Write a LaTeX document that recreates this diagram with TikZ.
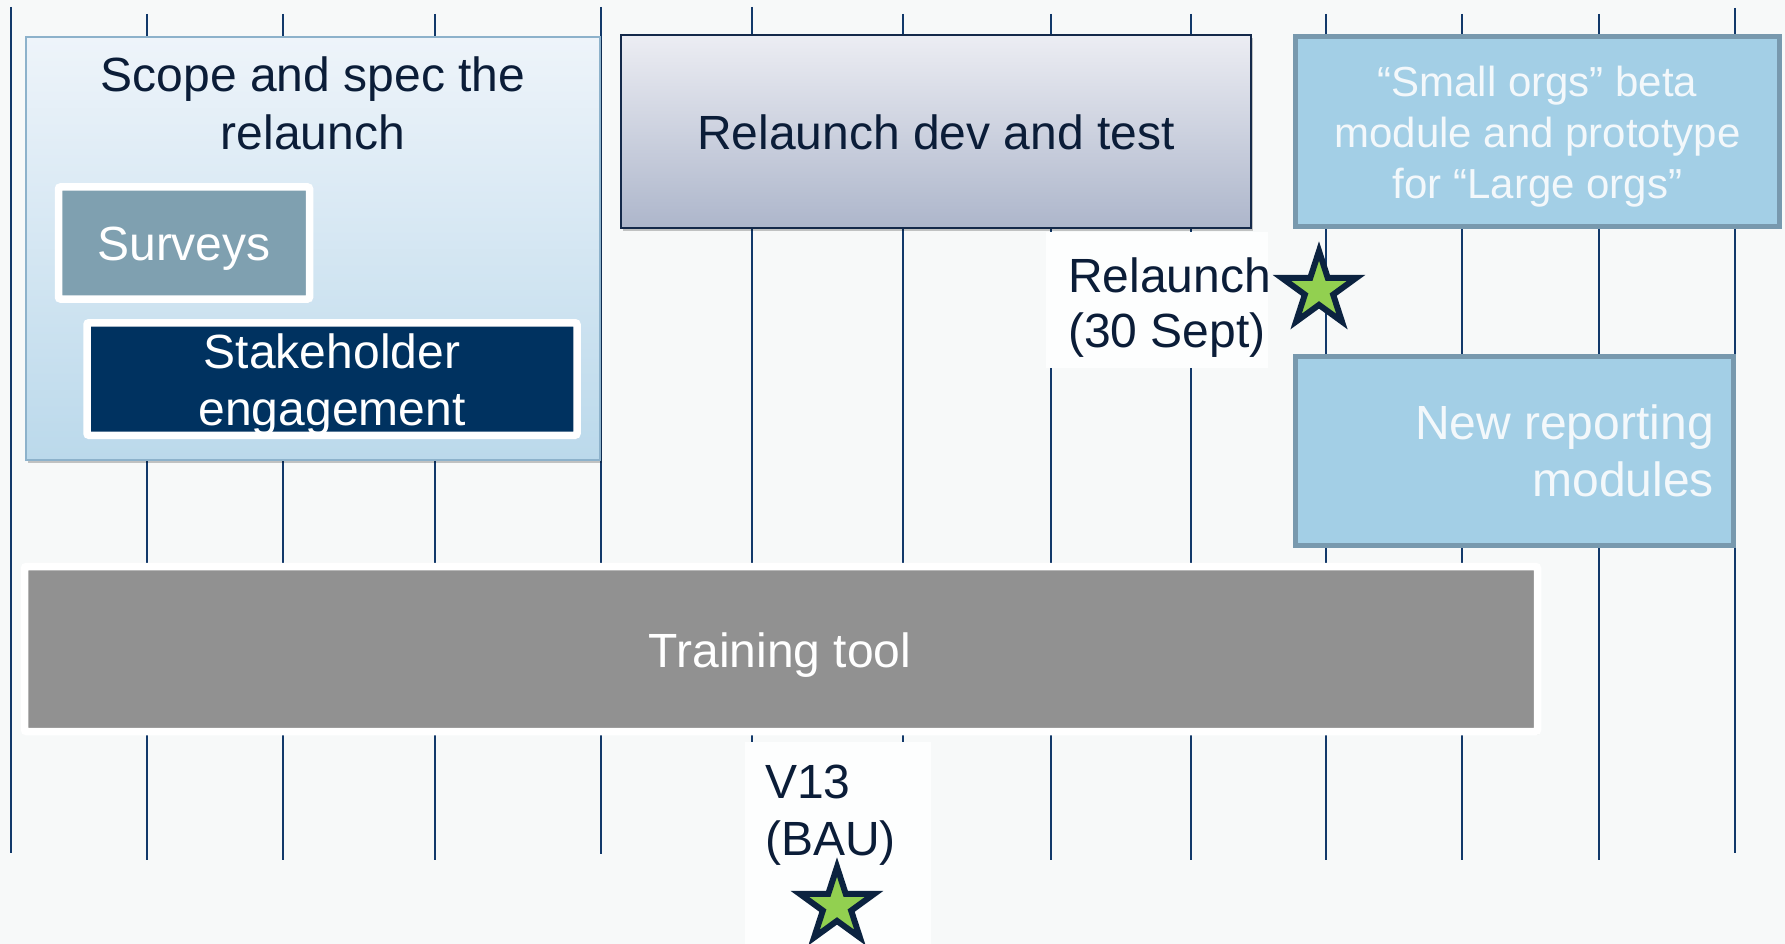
\documentclass[tikz,border=0pt]{standalone}
\usepackage{fontspec}
\setmainfont{Liberation Sans}
\usetikzlibrary{shapes.geometric,shadows}

\definecolor{bg}{HTML}{F7F9F9}
\definecolor{gridnavy}{HTML}{12396A}
\definecolor{ink}{HTML}{0B1D38}
\definecolor{paleink}{HTML}{F3F8FB}
\definecolor{scopetop}{HTML}{EEF4FA}
\definecolor{scopebot}{HTML}{BBD9EB}
\definecolor{scopeedge}{HTML}{8DB2CB}
\definecolor{devtop}{HTML}{ECEDF3}
\definecolor{devbot}{HTML}{ADB6CB}
\definecolor{devedge}{HTML}{14294A}
\definecolor{surveyfill}{HTML}{7FA0B0}
\definecolor{stakefill}{HTML}{003260}
\definecolor{trainfill}{HTML}{919191}
\definecolor{modfill}{HTML}{A3CFE6}
\definecolor{modedge}{HTML}{7899AE}
\definecolor{starfill}{HTML}{92D050}
\definecolor{staredge}{HTML}{0C2340}
\definecolor{patchwhite}{HTML}{FDFEFE}

\begin{document}
\begin{tikzpicture}[x=1pt,y=-1pt,
  gridline/.style={draw=gridnavy,line width=1.8pt},
  softshadow/.style={drop shadow={shadow xshift=2pt,shadow yshift=-3pt,opacity=.22,fill=black}},
  framed/.style={draw=white,line width=7.5pt,rounded corners=2pt,softshadow,inner sep=0pt},
  module/.style={fill=modfill,draw=modedge,line width=5pt,inner sep=0pt},
  milestone/.style={star,star points=5,star point ratio=2.618,minimum size=78pt,
    inner sep=0pt,outer sep=0pt,fill=starfill,draw=staredge,line width=6pt,miter limit=10},
  patch/.style={fill=patchwhite,draw=none,inner sep=0pt},
  bigtext/.style={font=\fontsize{48}{58}\selectfont,inner sep=0pt},
  midtext/.style={font=\fontsize{48}{57}\selectfont,inner sep=0pt},
  smalltext/.style={font=\fontsize{42}{51}\selectfont,inner sep=0pt}]

\useasboundingbox (0,0) rectangle (1785,944);
\fill[bg] (0,0) rectangle (1785,944);

% month grid
\foreach \gx/\gt/\gb in {11/7/853,147/14/860,283/14/860,435/14/860,601/7/854,
  752/7/860,903/14/860,1051/14/860,1191/14/860,1326/14/860,1462/14/860,
  1599/14/860,1735/8/853}
  \draw[gridline] (\gx,\gt) -- (\gx,\gb);

% scoping phase
\node[minimum width=574pt,minimum height=423pt,top color=scopetop,bottom color=scopebot,
  draw=scopeedge,line width=1.5pt,softshadow,inner sep=0pt] (scope) at (313,248.5) {};
\node[bigtext,text=ink,anchor=base] (scopetxt) at (313,92)
  {\begin{tabular}[t]{@{}c@{}}Scope and spec the\\relaunch\end{tabular}};

\node[framed,fill=surveyfill,minimum width=251pt,minimum height=112pt] (surveys) at (184,243) {};
\node[bigtext,text=white,anchor=base] (surveystxt) at (184,260) {Surveys};

\node[framed,fill=stakefill,minimum width=490pt,minimum height=112.5pt] (stake) at (332,379) {};
\node[midtext,text=white,anchor=base] (staketxt) at (332,368)
  {\begin{tabular}[t]{@{}c@{}}Stakeholder\\engagement\end{tabular}};

% development phase
\node[minimum width=630pt,minimum height=193pt,top color=devtop,bottom color=devbot,
  draw=devedge,line width=2pt,softshadow,inner sep=0pt] (dev) at (936,131.5) {};
\node[bigtext,text=ink,anchor=base] (devtxt) at (936,150) {Relaunch dev and test};

% follow-on modules
\node[module,minimum width=484pt,minimum height=190pt] (beta) at (1537.5,131.5) {};
\node[smalltext,text=paleink,anchor=base] (betatxt) at (1537.5,97)
  {\begin{tabular}[t]{@{}c@{}}“Small orgs” beta\\module and prototype\\for “Large orgs”\end{tabular}};

\node[module,minimum width=438pt,minimum height=189pt] (report) at (1514.5,451) {};
\node[midtext,text=paleink,anchor=base east] (reporttxt) at (1714,439)
  {\begin{tabular}[t]{@{}r@{}}New reporting\\modules\end{tabular}};

% training tool
\node[framed,fill=trainfill,minimum width=1513pt,minimum height=165pt] (train) at (781,649) {};
\node[bigtext,text=white,anchor=base] (traintxt) at (780,667) {Training tool};

% milestones
\node[patch,minimum width=222pt,minimum height=136pt] (relpatch) at (1157,300) {};
\node[font=\fontsize{48}{55}\selectfont,inner sep=0pt,text=ink,anchor=base west] (reltxt) at (1068,292)
  {\begin{tabular}[t]{@{}l@{}}Relaunch\\(30 Sept)\end{tabular}};
\node[milestone] (relstar) at (1319,290) {};

\node[patch,minimum width=186pt,minimum height=202pt] (baupatch) at (838,843) {};
\node[midtext,text=ink,anchor=base west] (bautxt) at (765,798)
  {\begin{tabular}[t]{@{}l@{}}V13\\(BAU)\end{tabular}};
\node[milestone] (baustar) at (837,906) {};

\end{tikzpicture}
\end{document}
